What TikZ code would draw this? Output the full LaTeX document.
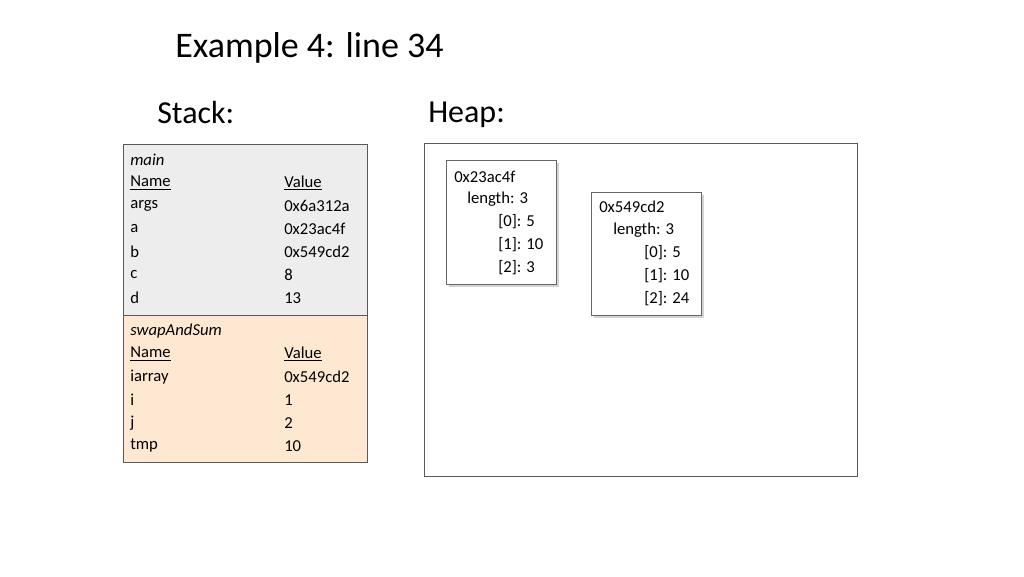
\documentclass[tikz,border=0pt]{standalone}
\usepackage{fontspec}
\setmainfont{Carlito}
\usetikzlibrary{shadows}
\begin{document}
\begin{tikzpicture}[x=0.75pt,y=-0.75pt,
  t/.style={anchor=west,inner sep=0pt,font=\fontsize{12.5}{14}\selectfont},
  frame/.style={draw=black!65,line width=0.6pt},
  arr/.style={draw=black!60,fill=white,line width=0.6pt,drop shadow={shadow xshift=2pt,shadow yshift=-2pt,opacity=0.35}}]
\useasboundingbox (0,0) rectangle (1024,576);
\node[anchor=west,inner sep=0pt,font=\fontsize{27}{30}\selectfont] (title) at (175,48) {Example 4: line 34};
\node[anchor=west,inner sep=0pt,font=\fontsize{24}{28}\selectfont] (stack) at (157,113) {Stack:};
\node[anchor=west,inner sep=0pt,font=\fontsize{24}{28}\selectfont] (heap) at (428,115) {Heap:};
\draw[frame,fill=black!7] (123,144) rectangle (367,315);
\draw[frame,fill=orange!18!white] (123,315) rectangle (367,462);
\draw[frame] (424,143) rectangle (857,476);
\node[t] (m0) at (130,160) {\textit{main}};
\node[t] (m1) at (130,183) {\underline{Name}};
\node[t] (v1) at (284,183) {\underline{Value}};
\node[t] (m2) at (130,206) {args}; \node[t] (v2) at (284,206) {0x6a312a};
\node[t] (m3) at (130,229) {a}; \node[t] (v3) at (284,229) {0x23ac4f};
\node[t] (m4) at (130,252) {b}; \node[t] (v4) at (284,252) {0x549cd2};
\node[t] (m5) at (130,275) {c}; \node[t] (v5) at (284,275) {8};
\node[t] (m6) at (130,298) {d}; \node[t] (v6) at (284,298) {13};
\node[t] (s0) at (130,331) {\textit{swapAndSum}};
\node[t] (s1) at (130,354) {\underline{Name}};
\node[t] (w1) at (284,354) {\underline{Value}};
\node[t] (s2) at (130,377) {iarray}; \node[t] (w2) at (284,377) {0x549cd2};
\node[t] (s3) at (130,400) {i}; \node[t] (w3) at (284,400) {1};
\node[t] (s4) at (130,423) {j}; \node[t] (w4) at (284,423) {2};
\node[t] (s5) at (130,446) {tmp}; \node[t] (w5) at (284,446) {10};
\draw[arr] (446,160) rectangle (556,284);
\node[t] (a0) at (454,177) {0x23ac4f};
\node[t] (a1) at (467,199) {length: 3};
\node[t] (a2) at (498,222) {[0]: 5};
\node[t] (a3) at (498,245) {[1]: 10};
\node[t] (a4) at (498,268) {[2]: 3};
\draw[arr] (591,192) rectangle (701,315);
\node[t] (b0) at (599,207) {0x549cd2};
\node[t] (b1) at (613,230) {length: 3};
\node[t] (b2) at (644,253) {[0]: 5};
\node[t] (b3) at (644,276) {[1]: 10};
\node[t] (b4) at (644,299) {[2]: 24};
\end{tikzpicture}
\end{document}
